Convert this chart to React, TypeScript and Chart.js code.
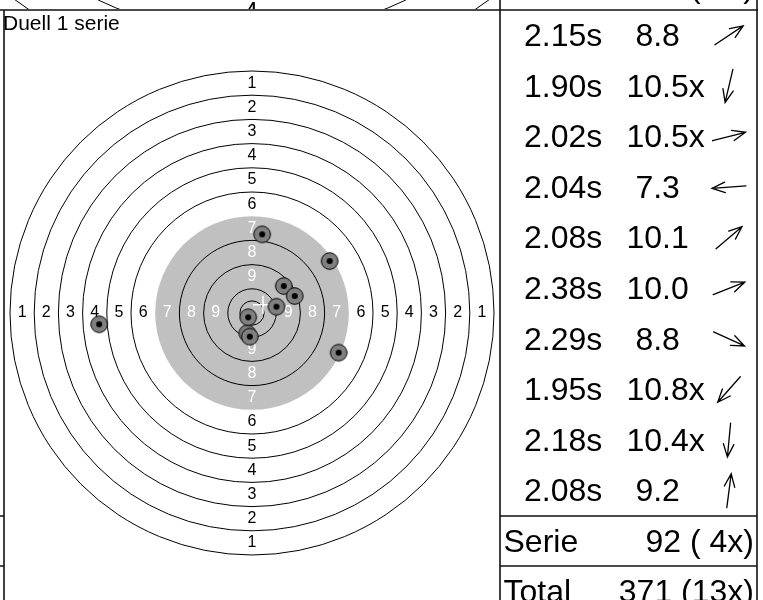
import React, { useEffect, useRef } from "react";
import { Chart, registerables } from "chart.js";

Chart.register(...registerables);

// ---------------- data ----------------
const TITLE = "Duell 1 serie";
// shot positions in mm relative to the target centre (x right, y up)
const shotX = [80.2, -4.9, 25.3, -157.9, 32.8, 44.1, 89.5, -3.9, -2.3, 10.5];
const shotY = [53.6, -20.9, 6.5, -11.6, 27.8, 17.5, -40.9, -4.4, -24.4, 81.1];
const shotTimes = ["2.15s", "1.90s", "2.02s", "2.04s", "2.08s", "2.38s", "2.29s", "1.95s", "2.18s", "2.08s"];
const shotScores = [" 8.8", "10.5x", "10.5x", " 7.3", "10.1", "10.0", " 8.8", "10.8x", "10.4x", " 9.2"];
const ringNumbers = [1, 2, 3, 4, 5, 6, 7, 8, 9];
const summaryLabels = ["Serie", "Total"];
const summaryValues = ["92 ( 4x)", "371 (13x)"];
const RING_MM = 25;

// ---------------- layout ----------------
const W = 763;
const H = 600;
const PANEL_TOP = 10;
const PANEL_LEFT = 4;
const DIVIDER = 500;
const RIGHT = 757;
const ROW_H = 50.6;
const SUM_TOP = 516;
const SUM_H = 50;
const FONT = '"Liberation Sans", Arial, sans-serif';
const CX = 251.5;
const CY = 313;
const RING_PX = 24.25;
const TABLE_FONT = 32;

function makeMarker(): HTMLCanvasElement {
  const c = document.createElement("canvas");
  c.width = 20;
  c.height = 20;
  const g = c.getContext("2d")!;
  g.beginPath();
  g.arc(10, 10, 8.3, 0, Math.PI * 2);
  g.fillStyle = "#808080";
  g.fill();
  g.lineWidth = 1;
  g.strokeStyle = "#000";
  g.stroke();
  g.beginPath();
  g.arc(10, 10, 3, 0, Math.PI * 2);
  g.fillStyle = "#000";
  g.fill();
  return c;
}

const targetPlugin = {
  id: "targetPlugin",
  beforeDatasetsDraw(chart: any) {
    const { ctx, scales } = chart;
    const x = scales.x;
    const y = scales.y;
    const cx = x.getPixelForValue(0);
    const cy = y.getPixelForValue(0);
    const w = x.getPixelForValue(RING_MM) - cx;
    ctx.save();
    ctx.fillStyle = "#c0c0c0";
    ctx.beginPath();
    ctx.arc(cx, cy, 4 * w, 0, Math.PI * 2);
    ctx.fill();
    ctx.strokeStyle = "#000";
    ctx.lineWidth = 1;
    [10, 9, 8, 7, 6, 5, 3, 2, 1, 0.5].forEach((r) => {
      ctx.beginPath();
      ctx.arc(cx, cy, r * w, 0, Math.PI * 2);
      ctx.stroke();
    });
    ctx.font = "16px " + FONT;
    ctx.textAlign = "center";
    ctx.textBaseline = "middle";
    ringNumbers.forEach((k) => {
      const r = (10.5 - k) * w;
      ctx.fillStyle = k >= 7 ? "#ffffff" : "#000000";
      const t = String(k);
      ctx.fillText(t, cx - r, cy);
      ctx.fillText(t, cx + r, cy);
      ctx.fillText(t, cx, cy - r);
      ctx.fillText(t, cx, cy + r);
    });
    // mean point of impact cross
    const mx = shotX.reduce((a, b) => a + b, 0) / shotX.length;
    const my = shotY.reduce((a, b) => a + b, 0) / shotY.length;
    const px = x.getPixelForValue(mx);
    const py = y.getPixelForValue(my);
    ctx.strokeStyle = "#ffffff";
    ctx.lineWidth = 1.5;
    ctx.beginPath();
    ctx.moveTo(px - 10, py);
    ctx.lineTo(px + 10, py);
    ctx.moveTo(px, py - 9);
    ctx.lineTo(px, py + 9);
    ctx.stroke();
    ctx.restore();
  },
  afterDraw(chart: any) {
    const { ctx } = chart;
    ctx.save();
    // remnants of the panel above
    ctx.save();
    ctx.beginPath();
    ctx.rect(0, 0, W, PANEL_TOP - 1);
    ctx.clip();
    ctx.strokeStyle = "#000";
    ctx.lineWidth = 1;
    [398, 355].forEach((r) => {
      ctx.beginPath();
      ctx.arc(252, -320, r, 0, Math.PI);
      ctx.stroke();
    });
    ctx.fillStyle = "#000";
    ctx.textAlign = "center";
    ctx.textBaseline = "alphabetic";
    ctx.font = "bold 16px " + FONT;
    ctx.fillText("4", 252, 13.5);
    ctx.textAlign = "right";
    ctx.font = TABLE_FONT + "px " + FONT;
    ctx.fillText("279 ( 9x)", 754, -3);
    ctx.restore();

    // frame lines
    ctx.strokeStyle = "#111";
    ctx.lineWidth = 1.6;
    ctx.beginPath();
    ctx.moveTo(0, PANEL_TOP);
    ctx.lineTo(RIGHT + 1, PANEL_TOP);
    ctx.moveTo(PANEL_LEFT, PANEL_TOP);
    ctx.lineTo(PANEL_LEFT, H);
    ctx.moveTo(DIVIDER, 0);
    ctx.lineTo(DIVIDER, H);
    ctx.moveTo(RIGHT, 0);
    ctx.lineTo(RIGHT, H);
    [SUM_TOP, SUM_TOP + SUM_H].forEach((yy) => {
      ctx.moveTo(DIVIDER, yy);
      ctx.lineTo(RIGHT, yy);
      ctx.moveTo(0, yy);
      ctx.lineTo(PANEL_LEFT, yy);
    });
    ctx.stroke();

    // direction arrows
    ctx.strokeStyle = "#000";
    ctx.lineWidth = 1.3;
    ctx.lineCap = "round";
    shotX.forEach((sx, i) => {
      const a = Math.atan2(shotY[i], sx);
      const dx = Math.cos(a);
      const dy = -Math.sin(a);
      const mx = 729;
      const my = PANEL_TOP + ROW_H * (i + 0.5);
      const L = 17;
      const tx = mx + dx * L;
      const ty = my + dy * L;
      ctx.beginPath();
      ctx.moveTo(mx - dx * L, my - dy * L);
      ctx.lineTo(tx, ty);
      const back = Math.atan2(-dy, -dx);
      const hl = 14;
      const ha = (22 * Math.PI) / 180;
      ctx.moveTo(tx + Math.cos(back + ha) * hl, ty + Math.sin(back + ha) * hl);
      ctx.lineTo(tx, ty);
      ctx.lineTo(tx + Math.cos(back - ha) * hl, ty + Math.sin(back - ha) * hl);
      ctx.stroke();
    });
    ctx.restore();
  },
};

export default function App() {
  const ref = useRef<HTMLCanvasElement | null>(null);

  useEffect(() => {
    document.body.style.margin = "0";
    const canvas = ref.current;
    if (!canvas) return;
    const marker = makeMarker();
    const half = 10 * RING_PX;
    const chart = new Chart(canvas, {
      type: "scatter",
      data: {
        datasets: [
          {
            data: shotX.map((v, i) => ({ x: v, y: shotY[i] })),
            pointStyle: marker as any,
            pointRadius: 9,
            showLine: false,
          },
        ],
      },
      options: {
        animation: false,
        responsive: false,
        events: [],
        layout: {
          padding: {
            left: CX - half,
            right: W - (CX + half),
            top: CY - half,
            bottom: H - (CY + half),
          },
        },
        plugins: { legend: { display: false }, tooltip: { enabled: false } },
        scales: {
          x: { type: "linear", min: -10 * RING_MM, max: 10 * RING_MM, display: false },
          y: { type: "linear", min: -10 * RING_MM, max: 10 * RING_MM, display: false },
        },
      },
      plugins: [targetPlugin],
    });
    return () => chart.destroy();
  }, []);

  const cell: React.CSSProperties = {
    position: "absolute",
    fontFamily: FONT,
    fontSize: TABLE_FONT,
    color: "#000",
    whiteSpace: "pre",
  };

  return (
    <div
      style={{
        position: "fixed",
        left: 0,
        top: 0,
        width: W,
        height: H,
        overflow: "hidden",
        background: "#fff",
      }}
    >
      <canvas ref={ref} width={W} height={H} style={{ position: "absolute", left: 0, top: 0 }} />
      <div
        style={{
          position: "absolute",
          left: 3,
          top: 11.7,
          fontFamily: FONT,
          fontSize: 21,
          lineHeight: "21px",
          whiteSpace: "pre",
          color: "#000",
        }}
      >
        {TITLE}
      </div>
      {shotTimes.map((t, i) => (
        <React.Fragment key={i}>
          <div style={{ ...cell, left: 524, top: PANEL_TOP + i * ROW_H, height: ROW_H, lineHeight: ROW_H + "px" }}>
            {t}
          </div>
          <div style={{ ...cell, left: 626.5, top: PANEL_TOP + i * ROW_H, height: ROW_H, lineHeight: ROW_H + "px" }}>
            {shotScores[i]}
          </div>
        </React.Fragment>
      ))}
      {summaryLabels.map((l, i) => (
        <React.Fragment key={"s" + i}>
          <div style={{ ...cell, left: 503.5, top: SUM_TOP + i * SUM_H, height: SUM_H, lineHeight: SUM_H + "px" }}>
            {l}
          </div>
          <div
            style={{
              ...cell,
              left: DIVIDER,
              width: 254,
              textAlign: "right",
              top: SUM_TOP + i * SUM_H,
              height: SUM_H,
              lineHeight: SUM_H + "px",
            }}
          >
            {summaryValues[i]}
          </div>
        </React.Fragment>
      ))}
    </div>
  );
}
